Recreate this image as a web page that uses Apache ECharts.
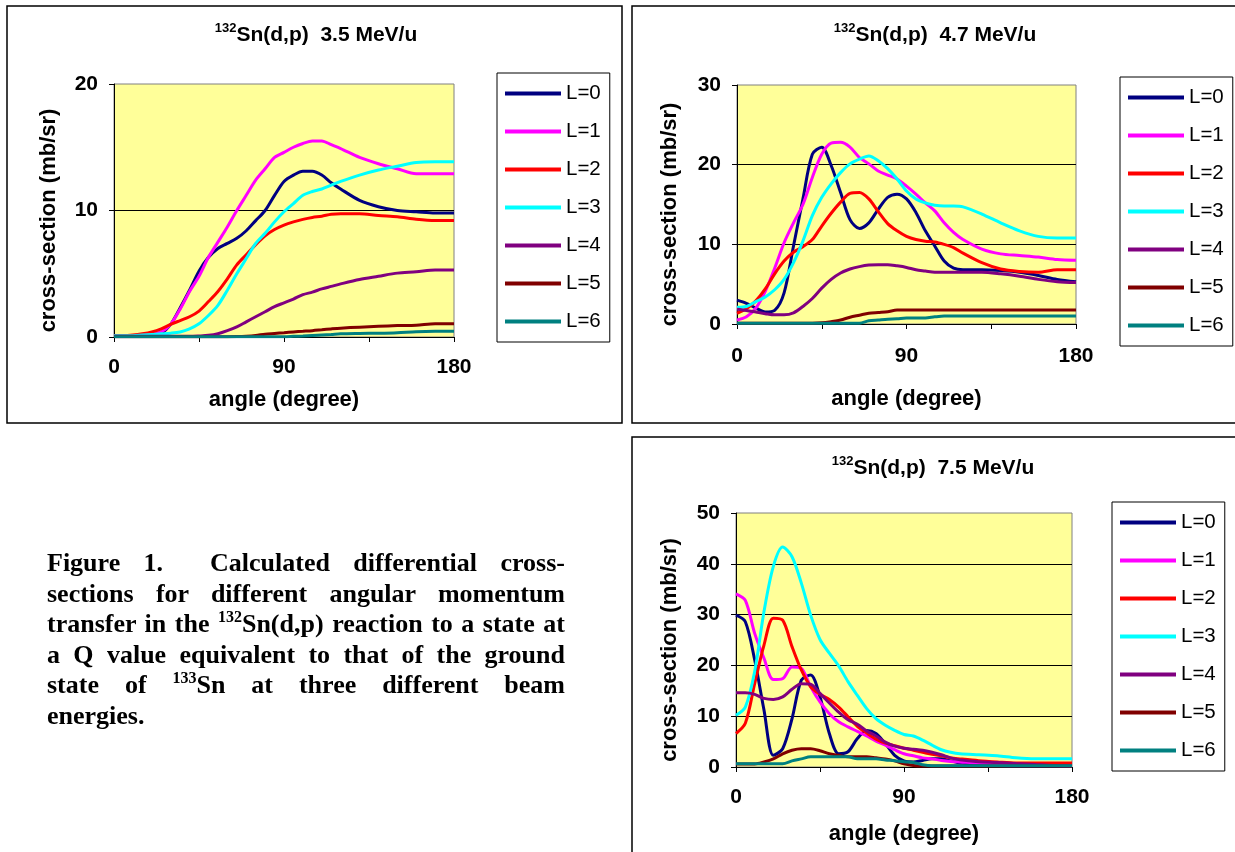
<!DOCTYPE html>
<html>
<head>
<meta charset="utf-8">
<title>132Sn(d,p) angular distributions</title>
<script src="https://cdn.jsdelivr.net/npm/echarts@6.0.0/dist/echarts.min.js"></script>
<style>
  html, body { margin: 0; padding: 0; background: #fff; }
  #main { position: absolute; left: 0; top: 0; width: 1235px; height: 852px; }
  #caption {
    position: absolute; left: 47px; top: 548px; width: 518px;
    font-family: "Liberation Serif", "Times New Roman", serif;
    font-weight: bold; font-size: 26px; line-height: 30.5px; color: #000;
  }
  #caption div { height: 30.5px; text-align: justify; text-align-last: justify; white-space: nowrap; }
  #caption div.last { text-align-last: left; }
  #caption .sup { font-size: 16px; line-height: 0; position: relative; top: -10px; }
</style>
</head>
<body>
<div id="main"></div>
<div id="caption">
  <div>Figure 1. &nbsp;Calculated differential cross-</div>
  <div>sections for different angular momentum</div>
  <div>transfer in the <span class="sup">132</span>Sn(d,p) reaction to a state at</div>
  <div>a Q value equivalent to that of the ground</div>
  <div>state of <span class="sup">133</span>Sn at three different beam</div>
  <div class="last">energies.</div>
</div>
<script>
// angle grid (degrees), shared by all curves
const angles = [0,5,10,15,20,25,30,35,40,45,50,55,60,65,70,75,80,85,90,95,100,105,110,115,120,130,140,150,160,170,180];
const lNames = ['L=0','L=1','L=2','L=3','L=4','L=5','L=6'];
const xTickLabels = [0, 90, 180];

// 3.5 MeV/u
const L0_35 = [0.1,0.1,0.1,0.1,0.15,0.3,1.0,2.3,3.7,5.2,6.3,7.0,7.4,7.8,8.4,9.2,10.0,11.2,12.3,12.8,13.1,13.1,12.8,12.2,11.7,10.8,10.3,10.0,9.9,9.8,9.8];
const L1_35 = [0.1,0.1,0.1,0.1,0.2,0.4,1.0,2.2,3.6,4.8,6.3,7.5,8.7,10.0,11.2,12.4,13.3,14.2,14.6,15.0,15.3,15.5,15.5,15.2,14.9,14.2,13.7,13.3,12.9,12.9,12.9];
const L2_35 = [0.1,0.1,0.15,0.25,0.4,0.65,1.0,1.3,1.6,2.05,2.8,3.6,4.6,5.7,6.5,7.3,8.0,8.5,8.85,9.1,9.3,9.45,9.55,9.7,9.75,9.75,9.6,9.5,9.3,9.2,9.2];
const L3_35 = [0.1,0.1,0.1,0.15,0.2,0.25,0.3,0.4,0.65,1.05,1.7,2.5,3.7,5.0,6.2,7.4,8.2,9.1,9.9,10.55,11.2,11.5,11.7,12.0,12.3,12.8,13.2,13.5,13.8,13.85,13.85];
const L4_35 = [0.05,0.05,0.05,0.05,0.05,0.05,0.05,0.05,0.05,0.08,0.13,0.26,0.5,0.8,1.2,1.6,2.0,2.4,2.7,3.0,3.35,3.55,3.8,4.0,4.2,4.55,4.8,5.05,5.15,5.3,5.3];
const L5_35 = [0.02,0.02,0.02,0.02,0.02,0.02,0.02,0.02,0.02,0.02,0.02,0.02,0.02,0.03,0.06,0.12,0.22,0.28,0.34,0.4,0.45,0.5,0.57,0.64,0.7,0.78,0.85,0.9,0.93,1.05,1.05];
const L6_35 = [0.02,0.02,0.02,0.02,0.02,0.02,0.02,0.02,0.02,0.02,0.02,0.02,0.02,0.02,0.02,0.02,0.02,0.02,0.02,0.05,0.08,0.12,0.16,0.2,0.25,0.28,0.3,0.34,0.42,0.45,0.45];

// 4.7 MeV/u
const L0_47 = [3.0,2.6,2.0,1.5,1.7,3.9,9.8,15.7,21.3,22.2,19.9,16.5,13.1,12.0,12.7,14.4,15.9,16.3,15.7,14.0,11.7,9.8,7.9,7.0,6.8,6.8,6.7,6.5,6.1,5.6,5.3];
const L1_47 = [0.5,0.9,2.0,4.1,7.0,10.2,12.7,15.0,18.4,21.3,22.7,22.8,22.2,20.9,20.1,19.2,18.7,18.2,17.3,16.3,15.2,14.2,12.7,11.5,10.6,9.4,8.8,8.6,8.4,8.1,8.0];
const L2_47 = [1.35,1.9,2.9,4.4,6.3,7.9,9.0,9.7,10.6,12.3,13.9,15.3,16.4,16.5,15.7,14.1,12.6,11.7,11.0,10.6,10.4,10.3,10.0,9.6,8.9,7.7,6.9,6.6,6.5,6.8,6.8];
const L3_47 = [2.1,2.2,2.8,3.4,4.3,5.6,7.7,10.4,13.6,15.9,17.6,19.0,20.1,20.7,21.1,20.5,19.5,18.2,16.7,15.7,15.2,14.9,14.8,14.8,14.7,13.8,12.7,11.7,11.0,10.8,10.8];
const L4_47 = [1.85,1.7,1.5,1.3,1.15,1.15,1.4,2.2,3.2,4.5,5.6,6.4,6.9,7.2,7.4,7.45,7.45,7.3,7.1,6.8,6.65,6.5,6.5,6.5,6.5,6.5,6.3,6.0,5.6,5.3,5.2];
const L5_47 = [0.1,0.1,0.1,0.1,0.1,0.1,0.1,0.1,0.1,0.15,0.3,0.5,0.85,1.1,1.35,1.45,1.55,1.75,1.75,1.75,1.75,1.75,1.75,1.75,1.75,1.75,1.75,1.75,1.75,1.75,1.75];
const L6_47 = [0.1,0.1,0.1,0.1,0.1,0.1,0.1,0.1,0.1,0.1,0.1,0.1,0.1,0.1,0.4,0.5,0.6,0.65,0.75,0.75,0.75,0.9,1.0,1.0,1.0,1.0,1.0,1.0,1.0,1.0,1.0];

// 7.5 MeV/u
const L0_75 = [29.9,28.6,21.1,11.2,2.3,3.6,9.5,17.1,18.1,13.8,6.6,2.6,3.0,5.6,7.2,6.6,4.6,2.3,1.2,1.0,1.3,1.6,1.6,1.2,0.8,0.5,0.3,0.2,0.2,0.2,0.2];
const L1_75 = [34.1,32.8,26.3,21.4,17.2,17.4,19.7,19.4,15.8,12.8,10.5,8.9,7.9,7.0,6.1,5.1,4.3,3.4,2.6,2.2,1.8,1.6,1.3,1.1,1.0,0.8,0.7,0.6,0.5,0.4,0.3];
const L2_75 = [6.6,8.6,16.4,24.0,29.3,28.9,23.7,19.1,15.8,14.3,13.3,11.8,9.9,8.0,6.7,5.5,4.7,4.2,3.7,3.3,2.9,2.5,2.2,1.8,1.6,1.25,1.0,0.8,0.8,0.8,0.8];
const L3_75 = [10.2,11.8,18.8,30.6,39.5,43.3,41.4,36.2,29.9,25.1,22.4,19.9,16.8,14.1,11.5,9.5,8.2,7.2,6.4,6.1,5.3,4.3,3.4,2.9,2.6,2.4,2.2,1.8,1.6,1.6,1.6];
const L4_75 = [14.6,14.6,14.3,13.5,13.3,13.8,15.3,16.4,16.3,14.5,12.6,10.8,9.3,8.4,7.1,6.1,4.9,4.1,3.7,3.5,3.3,2.9,2.4,1.8,1.4,1.05,0.9,0.7,0.5,0.3,0.2];
const L5_75 = [0.6,0.6,0.6,1.0,1.6,2.6,3.3,3.6,3.6,3.2,2.6,2.3,2.0,2.0,2.0,1.8,1.6,1.2,0.65,0.3,0.2,0.2,0.2,0.2,0.2,0.2,0.2,0.2,0.2,0.2,0.2];
const L6_75 = [0.65,0.65,0.65,0.65,0.65,0.65,1.2,1.6,2.0,2.0,2.0,2.0,2.0,1.6,1.6,1.6,1.4,1.25,1.05,0.9,0.45,0.25,0.25,0.25,0.25,0.25,0.25,0.25,0.25,0.25,0.25];

const lColors = ['#000080', '#FF00FF', '#FF0000', '#00FFFF', '#800080', '#800000', '#008080'];
const FONT = '"Liberation Sans", Arial, sans-serif';

// one entry per framed chart
const panels = [
  { energy: '3.5 MeV/u', curves: [L0_35, L1_35, L2_35, L3_35, L4_35, L5_35, L6_35], yMax: 20,
    frame: [7, 6, 615, 417], plot: [114, 84, 454, 337], title: [316, 34],
    legend: [497, 73], xLabelGap: 20, xNameGap: 52, yNameGap: 54 },
  { energy: '4.7 MeV/u', curves: [L0_47, L1_47, L2_47, L3_47, L4_47, L5_47, L6_47], yMax: 30,
    frame: [632, 6, 610, 417], plot: [737, 85, 1076, 324], title: [935, 34],
    legend: [1120, 77], xLabelGap: 22, xNameGap: 64, yNameGap: 56 },
  { energy: '7.5 MeV/u', curves: [L0_75, L1_75, L2_75, L3_75, L4_75, L5_75, L6_75], yMax: 50,
    frame: [632, 437, 610, 420], plot: [736, 513, 1072, 767], title: [933, 467],
    legend: [1112, 502], xLabelGap: 20, xNameGap: 56, yNameGap: 55 }
];

const chart = echarts.init(document.getElementById('main'));
const option = { animation: false, grid: [], xAxis: [], yAxis: [], legend: [], series: [], graphic: [] };
const tickFont = { color: '#000', fontFamily: FONT, fontWeight: 'bold', fontSize: 21 };
const nameFont = { color: '#000', fontFamily: FONT, fontWeight: 'bold', fontSize: 22 };

panels.forEach((p, i) => {
  option.grid.push({
    left: p.plot[0], top: p.plot[1], width: p.plot[2] - p.plot[0], height: p.plot[3] - p.plot[1],
    show: true, backgroundColor: '#FFFF99', borderColor: '#808080', borderWidth: 1
  });
  option.xAxis.push({
    gridIndex: i, type: 'value', min: 0, max: 180, interval: 45,
    name: 'angle (degree)', nameLocation: 'middle', nameGap: p.xNameGap, nameTextStyle: nameFont,
    axisLine: { lineStyle: { color: '#000', width: 1 } },
    axisTick: { length: 5, lineStyle: { color: '#000' } },
    axisLabel: Object.assign({ margin: p.xLabelGap, formatter: v => xTickLabels.includes(v) ? String(v) : '' }, tickFont),
    splitLine: { show: false }
  });
  option.yAxis.push({
    gridIndex: i, type: 'value', min: 0, max: p.yMax, interval: 10,
    name: 'cross-section (mb/sr)', nameLocation: 'middle', nameGap: p.yNameGap,
    nameTextStyle: Object.assign({ padding: [0, 20, 0, 0] }, nameFont),
    axisLine: { show: true, lineStyle: { color: '#000', width: 1 } },
    axisTick: { show: true, length: 5, lineStyle: { color: '#000' } },
    axisLabel: Object.assign({ margin: 16 }, tickFont),
    splitLine: { show: true, showMaxLine: false, lineStyle: { color: '#000', width: 1 } }
  });
  option.legend.push({
    data: lNames, orient: 'vertical', left: p.legend[0], top: p.legend[1],
    icon: 'rect', itemWidth: 56, itemHeight: 4, itemGap: 16,
    textStyle: { color: '#000', fontFamily: FONT, fontSize: 20.5, lineHeight: 22 },
    borderColor: '#000', borderWidth: 1, padding: [9.5, 9, 9.5, 8],
    selectedMode: false
  });
  p.curves.forEach((vals, k) => {
    option.series.push({
      name: lNames[k], type: 'line', xAxisIndex: i, yAxisIndex: i,
      data: angles.map((a, j) => [a, vals[j]]),
      color: lColors[k], showSymbol: false, symbol: 'none', smooth: 0.3,
      lineStyle: { width: 3 }
    });
  });
  option.graphic.push({
    type: 'rect', silent: true,
    shape: { x: p.frame[0], y: p.frame[1], width: p.frame[2], height: p.frame[3] },
    style: { fill: 'none', stroke: '#000', lineWidth: 1.5 }
  });
  option.graphic.push({
    type: 'text', silent: true, x: p.title[0], y: p.title[1],
    style: {
      text: '{s|132}{t|Sn(d,p)  ' + p.energy + '}',
      align: 'center', verticalAlign: 'middle',
      rich: {
        s: { fontSize: 13, fontWeight: 'bold', fontFamily: FONT, fill: '#000', verticalAlign: 'top', lineHeight: 24 },
        t: { fontSize: 21, fontWeight: 'bold', fontFamily: FONT, fill: '#000', verticalAlign: 'bottom', lineHeight: 24 }
      }
    }
  });
});

chart.setOption(option);
</script>
</body>
</html>
